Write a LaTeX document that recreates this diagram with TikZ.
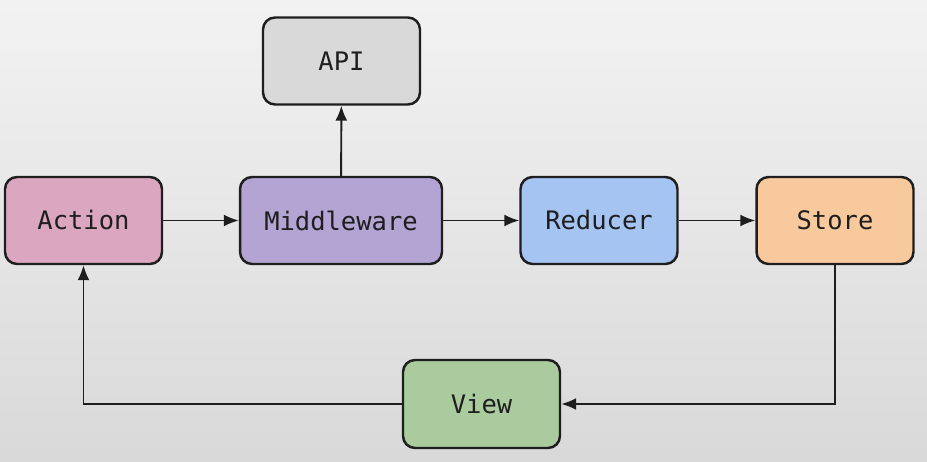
\documentclass[tikz,border=0pt]{standalone}
\usepackage{fontspec}
\setmonofont{DejaVu Sans Mono}
\usetikzlibrary{arrows.meta}
\definecolor{actioncol}{HTML}{DBA6C0}
\definecolor{mwcol}{HTML}{B3A4D4}
\definecolor{reducercol}{HTML}{A5C4F2}
\definecolor{storecol}{HTML}{F8C99C}
\definecolor{viewcol}{HTML}{A9CB9D}
\definecolor{apicol}{HTML}{D9D9D9}
\definecolor{linecol}{HTML}{1E1E1E}
\tikzset{
    box/.style={draw=linecol, line width=1.4pt, rounded corners=0.24cm,
        minimum height=1.74cm, minimum width=3.14cm, inner sep=0pt,
        font=\ttfamily\fontsize{14.5}{17}\selectfont, text=linecol},
    link/.style={draw=linecol, line width=1.1pt, -{Latex[length=0.3cm,width=0.24cm]}}
}
\begin{document}
\begin{tikzpicture}[x=0.02cm,y=-0.02cm]
                \useasboundingbox (0,0) rectangle (927,462);
                \shade[top color=black!5, bottom color=black!15] (0,0) rectangle (927,462);
                % boxes
                \node[box, fill=apicol] (api) at (341.5,61) {API};
                \node[box, fill=actioncol] (action) at (83.5,220.5) {Action};
                \node[box, fill=mwcol, minimum width=4.04cm] (mw) at (341,220.5) {Middleware};
                \node[box, fill=reducercol] (reducer) at (599,220.5) {Reducer};
                \node[box, fill=storecol] (store) at (835,220.5) {Store};
                \node[box, fill=viewcol, minimum height=1.76cm] (view) at (481.5,404) {View};
                % arrows
                \draw[link] (action) -- (mw);
                \draw[link] (mw) -- (reducer);
                \draw[link] (reducer) -- (store);
                \draw[link] (mw) -- (api);
                \draw[link] (store) |- (view);
                \draw[link] (view) -| (action);
            \end{tikzpicture}
\end{document}
